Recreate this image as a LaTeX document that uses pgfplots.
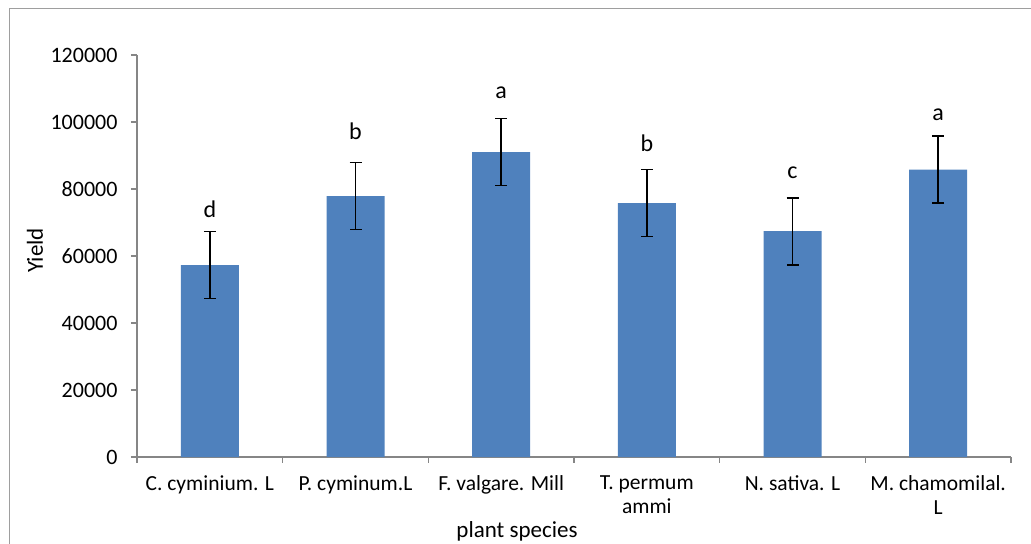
\documentclass[border=0pt]{standalone}
\usepackage{pgfplots}
\pgfplotsset{compat=1.18}
\usepackage{fontspec}
\setmainfont{Carlito}
\definecolor{barblue}{HTML}{4F81BD}
\definecolor{axgray}{HTML}{868686}
\begin{document}
\begin{tikzpicture}
\useasboundingbox (0bp,0bp) rectangle (1031bp,544bp);
\draw[axgray!80, line width=1.5bp] (9.5bp,0bp) -- (9.5bp,535.7bp) -- (1031bp,535.7bp);
\begin{axis}[
  at={(137bp,87bp)}, anchor=south west,
  scale only axis, width=874bp, height=402bp,
  xmin=-0.5, xmax=5.5, ymin=0, ymax=120000,
  ytick={0,20000,...,120000},
  scaled y ticks=false,
  /pgf/number format/assume math mode=true,
  yticklabel style={/pgf/number format/fixed, /pgf/number format/1000 sep={}, font=\fontsize{22bp}{25bp}\selectfont, xshift=-10bp},
  xtick={0,...,5},
  xticklabels={C. cyminium. L, P. cyminum.L, F. valgare. Mill, T. permum\\ammi, N. sativa. L, M. chamomilal.\\L},
  xticklabel style={align=center, font=\fontsize{21.5bp}{24bp}\selectfont, yshift=-9bp},
  minor xtick={-0.5,0.5,...,5.5},
  major x tick style={draw=none},
  minor x tick style={axgray, line width=1.2bp},
  y tick style={axgray, line width=1.2bp},
  tick align=outside,
  major tick length=6bp, minor tick length=6bp,
  axis x line*=bottom, axis y line*=left,
  x axis line style={axgray, line width=1.5bp, -},
  y axis line style={axgray, line width=1.5bp, -},
  xlabel={plant species}, ylabel={Yield},
  xlabel style={font=\fontsize{23bp}{26bp}\selectfont, at={(axis description cs:0.4348,-0.199)}, anchor=base},
  ylabel style={font=\fontsize{23bp}{26bp}\selectfont, at={(axis description cs:-0.1167,0.5137)}, anchor=center},
  clip=false,
]
\addplot[ybar, bar width=58bp, fill=barblue, draw=none,
  error bars/.cd, y dir=both, y explicit,
  error bar style={black, line width=1.7bp}, error mark options={black, line width=1.7bp, mark size=6bp, rotate=90}]
  table[x=x, y=y, y error=e] {
  x y e
  0 57300 10000
  1 77900 10000
  2 91000 10000
  3 75800 10000
  4 67400 10000
  5 85800 10000
};
\addplot[draw=none, mark=none, nodes near coords, point meta=explicit symbolic,
  every node near coord/.append style={anchor=base, inner sep=0pt, yshift=0bp, font=\fontsize{24bp}{28bp}\selectfont}]
  table[x=x, y=y, meta=l] {
  x y l
  0 71640 d
  1 94630 b
  2 106870 a
  3 91050 b
  4 82990 c
  5 100300 a
};
\end{axis}
\end{tikzpicture}
\end{document}
